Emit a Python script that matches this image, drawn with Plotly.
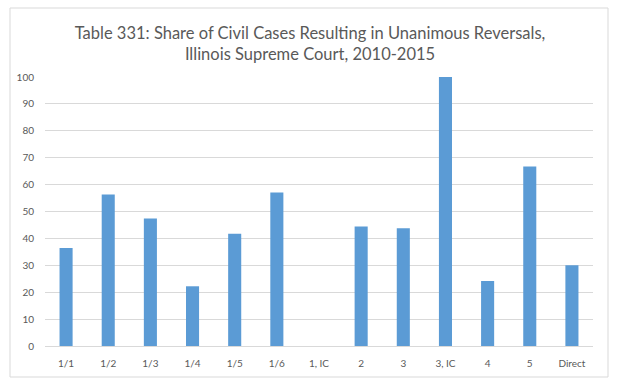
import plotly.graph_objects as go

categories = ["1/1", "1/2", "1/3", "1/4", "1/5", "1/6", "1, IC", "2", "3", "3, IC", "4", "5", "Direct"]
values = [36.4, 56.3, 47.4, 22.2, 41.7, 57.1, 0, 44.4, 43.8, 100, 24.2, 66.7, 30.0]
title_text = "Table 331: Share of Civil Cases Resulting in Unanimous Reversals,<br>Illinois Supreme Court, 2010-2015"

W, H = 620, 387
ml, mr, mt, mb = 45, 27, 77, 41
pw, ph = W - ml - mr, H - mt - mb

def px(x):
    return (x - ml) / pw

def py(y):
    return (H - mb - y) / ph

fig = go.Figure(go.Bar(
    x=categories, y=values,
    marker=dict(color="#5b9bd5", line=dict(width=0)),
    width=0.31,
))

fig.update_layout(
    width=W, height=H,
    margin=dict(l=ml, r=mr, t=mt, b=mb),
    paper_bgcolor="white", plot_bgcolor="white",
    font=dict(family="Lato, Open Sans, sans-serif", color="#595959", size=10),
    title=dict(text=title_text, x=0.5, xref="container", xanchor="center",
               y=(H - 39) / H, yanchor="middle",
               font=dict(size=16.5, color="#595959", family="Lato, Open Sans, sans-serif")),
    showlegend=False,
    xaxis=dict(type="category", showgrid=False, showline=True, linecolor="#d9d9d9",
               linewidth=1, ticks="outside", ticklen=8, tickcolor="rgba(0,0,0,0)",
               tickfont=dict(size=10, color="#595959")),
    yaxis=dict(range=[0, 100], dtick=10, showgrid=True, gridcolor="#d9d9d9", gridwidth=1,
               zeroline=False, showline=False, ticks="outside", ticklen=8,
               tickcolor="rgba(0,0,0,0)",
               tickfont=dict(size=10, color="#595959")),
    shapes=[dict(type="rect", xref="paper", yref="paper",
                 x0=px(10), x1=px(608), y0=py(377), y1=py(8),
                 line=dict(color="#d9d9d9", width=1), fillcolor="rgba(0,0,0,0)", layer="below")],
)

fig.write_html("out.html")
